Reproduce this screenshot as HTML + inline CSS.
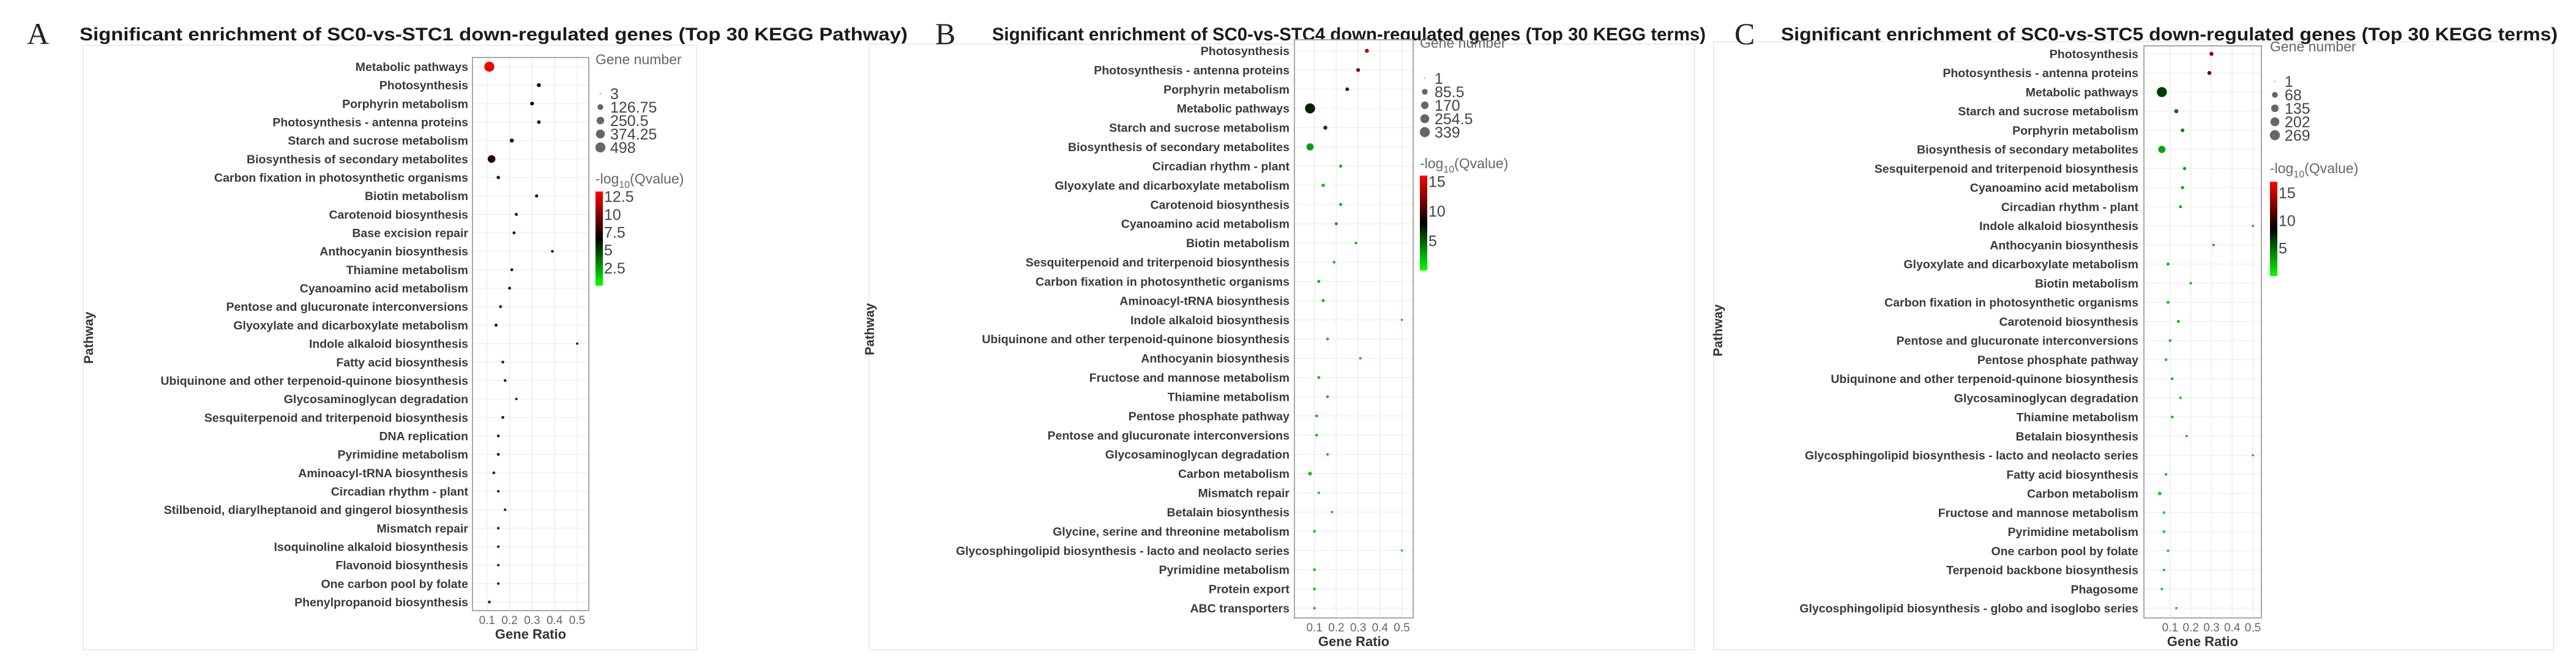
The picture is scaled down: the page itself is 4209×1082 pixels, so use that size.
<!DOCTYPE html>
<html><head><meta charset="utf-8"><style>
html,body{margin:0;padding:0;background:#fff;}
svg{display:block;font-family:"Liberation Sans",sans-serif;}
</style></head><body>
<svg id="fig" width="4209" height="1082" viewBox="0 0 4209 1082" xmlns="http://www.w3.org/2000/svg"></svg>
<script>
// ---------- Panel A data ----------
const aLabels = ["Metabolic pathways","Photosynthesis","Porphyrin metabolism","Photosynthesis - antenna proteins","Starch and sucrose metabolism","Biosynthesis of secondary metabolites","Carbon fixation in photosynthetic organisms","Biotin metabolism","Carotenoid biosynthesis","Base excision repair","Anthocyanin biosynthesis","Thiamine metabolism","Cyanoamino acid metabolism","Pentose and glucuronate interconversions","Glyoxylate and dicarboxylate metabolism","Indole alkaloid biosynthesis","Fatty acid biosynthesis","Ubiquinone and other terpenoid-quinone biosynthesis","Glycosaminoglycan degradation","Sesquiterpenoid and triterpenoid biosynthesis","DNA replication","Pyrimidine metabolism","Aminoacyl-tRNA biosynthesis","Circadian rhythm - plant","Stilbenoid, diarylheptanoid and gingerol biosynthesis","Mismatch repair","Isoquinoline alkaloid biosynthesis","Flavonoid biosynthesis","One carbon pool by folate","Phenylpropanoid biosynthesis"];
const aRatio = [0.11,0.33,0.30,0.33,0.21,0.12,0.15,0.32,0.23,0.22,0.39,0.21,0.20,0.16,0.14,0.50,0.17,0.18,0.23,0.17,0.15,0.15,0.13,0.15,0.18,0.15,0.15,0.15,0.15,0.11];
const aCount = [498,40,35,30,45,260,25,20,18,15,12,14,16,14,18,5,12,12,6,14,12,14,12,10,8,9,8,8,7,12];
const aQ = [12.8,6.5,6.5,6.5,6.2,7.5,6,6,6,5.8,5.8,5.8,5.8,5.6,5.6,5.5,5.5,5.5,5.5,5.5,5.5,5.5,5.5,5.3,5.3,5.3,5.3,5.3,5.3,5.3];
const aGeneTicks = ["3","126.75","250.5","374.25","498"];
const aGeneVals = [3,126.75,250.5,374.25,498];
const aQTicks = [12.5,10,7.5,5,2.5];

// ---------- Panel B data ----------
const bLabels = ["Photosynthesis","Photosynthesis - antenna proteins","Porphyrin metabolism","Metabolic pathways","Starch and sucrose metabolism","Biosynthesis of secondary metabolites","Circadian rhythm - plant","Glyoxylate and dicarboxylate metabolism","Carotenoid biosynthesis","Cyanoamino acid metabolism","Biotin metabolism","Sesquiterpenoid and triterpenoid biosynthesis","Carbon fixation in photosynthetic organisms","Aminoacyl-tRNA biosynthesis","Indole alkaloid biosynthesis","Ubiquinone and other terpenoid-quinone biosynthesis","Anthocyanin biosynthesis","Fructose and mannose metabolism","Thiamine metabolism","Pentose phosphate pathway","Pentose and glucuronate interconversions","Glycosaminoglycan degradation","Carbon metabolism","Mismatch repair","Betalain biosynthesis","Glycine, serine and threonine metabolism","Glycosphingolipid biosynthesis - lacto and neolacto series","Pyrimidine metabolism","Protein export","ABC transporters"];
const bRatio = [0.34,0.30,0.25,0.08,0.15,0.08,0.22,0.14,0.22,0.20,0.29,0.19,0.12,0.14,0.50,0.16,0.31,0.12,0.16,0.11,0.11,0.16,0.08,0.12,0.18,0.10,0.50,0.10,0.10,0.10];
const bCount = [30,25,22,339,30,150,12,14,10,12,6,8,12,12,2,8,4,10,8,10,8,5,25,6,4,8,2,10,8,8];
const bQ = [14,12,10,7,6,3,2.5,2.5,2.5,2.5,2,2,2,2,2,2,2,2,2,2,2,2,1.5,1.5,1.5,1.5,1.5,1.5,1.5,1.5];
const bGeneTicks = ["1","85.5","170","254.5","339"];
const bGeneVals = [1,85.5,170,254.5,339];
const bQTicks = [15,10,5];

// ---------- Panel C data ----------
const cLabels = ["Photosynthesis","Photosynthesis - antenna proteins","Metabolic pathways","Starch and sucrose metabolism","Porphyrin metabolism","Biosynthesis of secondary metabolites","Sesquiterpenoid and triterpenoid biosynthesis","Cyanoamino acid metabolism","Circadian rhythm - plant","Indole alkaloid biosynthesis","Anthocyanin biosynthesis","Glyoxylate and dicarboxylate metabolism","Biotin metabolism","Carbon fixation in photosynthetic organisms","Carotenoid biosynthesis","Pentose and glucuronate interconversions","Pentose phosphate pathway","Ubiquinone and other terpenoid-quinone biosynthesis","Glycosaminoglycan degradation","Thiamine metabolism","Betalain biosynthesis","Glycosphingolipid biosynthesis - lacto and neolacto series","Fatty acid biosynthesis","Carbon metabolism","Fructose and mannose metabolism","Pyrimidine metabolism","One carbon pool by folate","Terpenoid backbone biosynthesis","Phagosome","Glycosphingolipid biosynthesis - globo and isoglobo series"];
const cRatio = [0.30,0.29,0.06,0.13,0.16,0.06,0.17,0.16,0.15,0.50,0.31,0.09,0.20,0.09,0.14,0.10,0.08,0.11,0.15,0.11,0.18,0.50,0.08,0.05,0.07,0.07,0.09,0.07,0.06,0.13];
const cCount = [25,22,269,25,18,120,10,10,8,2,4,8,4,8,8,6,6,6,4,6,3,2,5,15,5,6,5,4,4,3];
const cQ = [14,12,6.5,5,4,3,3,3,2.5,2.5,2.5,2.5,2,2,2,2,2,2,2,2,2,2,2,1.5,1.5,1.5,1.5,1.5,1.5,1.5];
const cGeneTicks = ["1","68","135","202","269"];
const cGeneVals = [1,68,135,202,269];
const cQTicks = [15,10,5];

const ratioTicks = [0.1,0.2,0.3,0.4,0.5];

const NS = "http://www.w3.org/2000/svg";
const svg = document.getElementById("fig");
function mk(tag, attrs, parent, text){
  const e = document.createElementNS(NS, tag);
  for (const k in attrs) e.setAttribute(k, attrs[k]);
  if (text !== undefined) e.textContent = text;
  (parent || svg).appendChild(e);
  return e;
}
function lerp(a,b,t){return Math.round(a+(b-a)*t);}
function qColor(q, qmax){
  const t = Math.max(0, Math.min(1, q/qmax));
  if (t < 0.5){ const u = t/0.5; return `rgb(0,${lerp(255,0,u)},0)`; }
  const u = (t-0.5)/0.5; return `rgb(${lerp(0,255,u)},0,0)`;
}

function panel(cfg){
  const g = mk("g", {});
  
  
  const fr = mk("rect", {x:cfg.frame[0], y:cfg.frame[1], width:cfg.frame[2]-cfg.frame[0], height:cfg.frame[3]-cfg.frame[1], fill:"none", stroke:"#ececec", "stroke-width":2}, g);
  
  
  const L = mk("text", {x:cfg.letterX, y:72, "font-family":"Liberation Serif, serif", "font-size":50, fill:"#222"}, g, cfg.letter);
  
  
  const T = mk("text", {x:cfg.titleX0, y:66, "font-size":30, "font-weight":"bold", fill:"#1a1a1a", textLength:cfg.titleX1-cfg.titleX0, lengthAdjust:"spacingAndGlyphs"}, g, cfg.title);
  
  

  const n = cfg.labels.length;
  const step = (cfg.lastY - cfg.firstY)/(n-1);
  const yOf = i => cfg.firstY + i*step;
  const xOf = r => cfg.x0 + r*cfg.pxPer;
  const maxN = cfg.geneVals[cfg.geneVals.length-1];
  const rOf = c => 1.2 + 7*Math.sqrt(c/maxN);

  const bg = mk("rect", {x:cfg.box[0], y:cfg.box[1], width:cfg.box[2]-cfg.box[0], height:cfg.box[3]-cfg.box[1], fill:"#fff", stroke:"#a8a8a8", "stroke-width":2}, g);
  
  
  ratioTicks.forEach(t=>{
    const gl = mk("line", {x1:xOf(t), x2:xOf(t), y1:cfg.box[1]+1, y2:cfg.box[3]-1, stroke:"#ededed", "stroke-width":1.5}, g);
    
    
    const tl = mk("text", {x:xOf(t), y:cfg.box[3]+22, "font-size":19, fill:"#666", "text-anchor":"middle"}, g, String(t));
    
    
  });
  cfg.labels.forEach((lab,i)=>{
    const gl = mk("line", {x1:cfg.box[0]+1, x2:cfg.box[2]-1, y1:yOf(i), y2:yOf(i), stroke:"#f0f0f0", "stroke-width":1.5}, g);
    
    
    const t = mk("text", {x:cfg.labelRight, y:yOf(i)+7, "font-size":19.5, "font-weight":"bold", fill:"#3a3a3a", "text-anchor":"end"}, g, lab);
    
    
  });
  cfg.labels.forEach((lab,i)=>{
    const c = mk("circle", {cx:xOf(cfg.ratio[i]), cy:yOf(i), r:rOf(cfg.count[i]), fill:qColor(cfg.q[i], cfg.qmax)}, g);
    
    
  });
  const xt = mk("text", {x:(cfg.box[0]+cfg.box[2])/2, y:cfg.box[3]+46, "font-size":22, "font-weight":"bold", fill:"#333", "text-anchor":"middle"}, g, "Gene Ratio");
  
  
  const yt = mk("text", {x:cfg.yTitleX, y:cfg.yTitleY, "font-size":21, "font-weight":"bold", fill:"#333", "text-anchor":"middle", transform:`rotate(-90 ${cfg.yTitleX} ${cfg.yTitleY})`}, g, "Pathway");
  
  

  const lx = cfg.legX;
  const gt = mk("text", {x:lx, y:cfg.geneTitleY, "font-size":23, fill:"#666"}, g, "Gene number");
  
  
  cfg.geneVals.forEach((v,i)=>{
    const yy = cfg.geneY0 + i*cfg.geneStep;
    const d = mk("circle", {cx:lx+8, cy:yy, r:rOf(v), fill:i===0?"#ccc":"#666"}, g);
    
    
    const t = mk("text", {x:lx+24, y:yy+9, "font-size":25, fill:"#444"}, g, cfg.geneTicks[i]);
    
    
  });
  const qt = mk("text", {x:lx, y:cfg.qTitleY, "font-size":23, fill:"#666"}, g);
  
  
  mk("tspan", {}, qt, "-log");
  mk("tspan", {dy:7, "font-size":16}, qt, "10");
  mk("tspan", {dy:-7}, qt, "(Qvalue)");
  const gid = cfg.id + "-grad";
  const defs = mk("defs", {}, g);
  const lg = mk("linearGradient", {id:gid, x1:0, y1:1, x2:0, y2:0}, defs);
  mk("stop", {offset:"0", "stop-color":"#00ff00"}, lg);
  mk("stop", {offset:"0.5", "stop-color":"#000"}, lg);
  mk("stop", {offset:"1", "stop-color":"#ff0000"}, lg);
  const cb = mk("rect", {x:lx, y:cfg.cbTop, width:12, height:cfg.cbBot-cfg.cbTop, fill:`url(#${gid})`}, g);
  
  
  const cbv = q => cfg.cbBot - (q/cfg.qmax)*(cfg.cbBot-cfg.cbTop);
  cfg.qTicks.forEach(q=>{
    const t = mk("text", {x:lx+14, y:cbv(q)+9, "font-size":25, fill:"#444"}, g, String(q));
    
    
  });
}

panel({id:"panel-a", letter:"A", letterX:44, titleX0:130, titleX1:1483,
  title:"Significant enrichment of SC0-vs-STC1 down-regulated genes (Top 30 KEGG Pathway)",
  frame:[136,74,1138,1062], labels:aLabels, ratio:aRatio, count:aCount, q:aQ, qmax:13.2,
  box:[772,94,962,998], firstY:109, lastY:984, x0:759, pxPer:368, labelRight:765,
  yTitleX:152, yTitleY:552, legX:973, geneTitleY:105, geneY0:153, geneStep:22,
  geneTicks:aGeneTicks, geneVals:aGeneVals, qTitleY:300, cbTop:313, cbBot:467, qTicks:aQTicks});
panel({id:"panel-b", letter:"B", letterX:1528, titleX0:1621, titleX1:2787,
  title:"Significant enrichment of SC0-vs-STC4 down-regulated genes (Top 30 KEGG terms)",
  frame:[1420,72,2769,1062], labels:bLabels, ratio:bRatio, count:bCount, q:bQ, qmax:16,
  box:[2115,65,2309,1010], firstY:83, lastY:994, x0:2112, pxPer:357, labelRight:2107,
  yTitleX:1428, yTitleY:538, legX:2320, geneTitleY:78, geneY0:128, geneStep:22,
  geneTicks:bGeneTicks, geneVals:bGeneVals, qTitleY:275, cbTop:287, cbBot:442, qTicks:bQTicks});
panel({id:"panel-c", letter:"C", letterX:2834, titleX0:2910, titleX1:4179,
  title:"Significant enrichment of SC0-vs-STC5 down-regulated genes (Top 30 KEGG terms)",
  frame:[2800,68,4172,1062], labels:cLabels, ratio:cRatio, count:cCount, q:cQ, qmax:17,
  box:[3503,75,3695,1010], firstY:88, lastY:994, x0:3512, pxPer:338, labelRight:3494,
  yTitleX:2814, yTitleY:540, legX:3709, geneTitleY:84, geneY0:133, geneStep:22,
  geneTicks:cGeneTicks, geneVals:cGeneVals, qTitleY:283, cbTop:297, cbBot:451, qTicks:cQTicks});
</script>
</body></html>
